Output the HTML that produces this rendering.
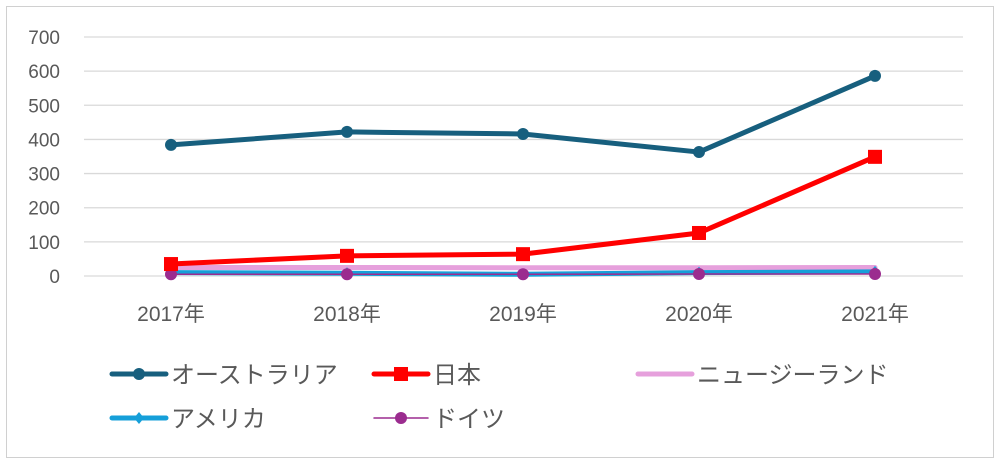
<!DOCTYPE html>
<html><head><meta charset="utf-8"><style>
body{margin:0;background:#fff}
svg{display:block;font-family:"Liberation Sans","Noto Sans CJK JP",sans-serif}
</style></head><body>
<svg id="c" width="1000" height="464">
<rect x="6.5" y="6.5" width="987" height="451" fill="#fff" stroke="#d0d0d0"/>
</svg>
<script>
const categories=["2017年","2018年","2019年","2020年","2021年"];
const yTicks=[0,100,200,300,400,500,600,700];
const australia=[384,422,416,363,586];
const japan=[35,59,64,126,349];
const newZealand=[25,25,24,24,25];
const usa=[10,8,5,10,12];
const germany=[5,5,5,6,6];
const svg=document.getElementById('c');const NS='http://www.w3.org/2000/svg';
function mk(t,a,p){const e=document.createElementNS(NS,t);for(const k in a)e.setAttribute(k,a[k]);(p||svg).appendChild(e);return e;}
const x=i=>171+i*176;const y=v=>276-v*239/700;
yTicks.forEach(v=>{const l=mk('line',{x1:84,x2:963,y1:y(v),y2:y(v),stroke:'#d9d9d9','stroke-width':1.3});


const t=mk('text',{x:60,y:y(v)+7,'text-anchor':'end','font-size':19,fill:'#595959'});t.textContent=v;

});
categories.forEach((c,i)=>{const t=mk('text',{x:x(i),y:321,'text-anchor':'middle','font-size':21,fill:'#595959'});t.textContent=c;

});
const series=[
{n:'ニュージーランド',d:newZealand,c:'#e6a0dc',w:5,m:'none'},
{n:'アメリカ',d:usa,c:'#159fd9',w:5,m:'diamond'},
{n:'ドイツ',d:germany,c:'#9b2c8f',w:1.5,m:'circle'},
{n:'日本',d:japan,c:'#ff0000',w:5,m:'square'},
{n:'オーストラリア',d:australia,c:'#175f7e',w:5,m:'circle'}];
function marker(m,cx,cy,c,g){
if(m==='circle')return mk('circle',{cx,cy,r:6,fill:c},g);
if(m==='square')return mk('rect',{x:cx-7,y:cy-7,width:14,height:14,fill:c},g);
if(m==='diamond')return mk('polygon',{points:`${cx},${cy-6} ${cx+5},${cy} ${cx},${cy+6} ${cx-5},${cy}`,fill:c},g);}
series.forEach(s=>{const g=mk('g',{});


mk('polyline',{points:s.d.map((v,i)=>x(i)+','+y(v)).join(' '),fill:'none',stroke:s.c,'stroke-width':s.w,'stroke-linejoin':'round','stroke-linecap':'round'},g);
s.d.forEach((v,i)=>{if(s.m!=='none'){const p=marker(s.m,x(i),y(v),s.c,g);

}});});
const leg=[
{n:'オーストラリア',c:'#175f7e',w:5,m:'circle',lx:112,ly:374},
{n:'日本',c:'#ff0000',w:5,m:'square',lx:374,ly:374},
{n:'ニュージーランド',c:'#e6a0dc',w:5,m:'none',lx:638,ly:374},
{n:'アメリカ',c:'#159fd9',w:5,m:'diamond',lx:112,ly:418},
{n:'ドイツ',c:'#9b2c8f',w:1.5,m:'circle',lx:374,ly:418}];
leg.forEach(l=>{const g=mk('g',{});


mk('line',{x1:l.lx,x2:l.lx+54,y1:l.ly,y2:l.ly,stroke:l.c,'stroke-width':l.w,'stroke-linecap':'round'},g);
if(l.m!=='none')marker(l.m,l.lx+27,l.ly,l.c,g);
const t=mk('text',{x:l.lx+59,y:l.ly+9,'font-size':24,fill:'#595959'},g);t.textContent=l.n;});
</script>
</body></html>
